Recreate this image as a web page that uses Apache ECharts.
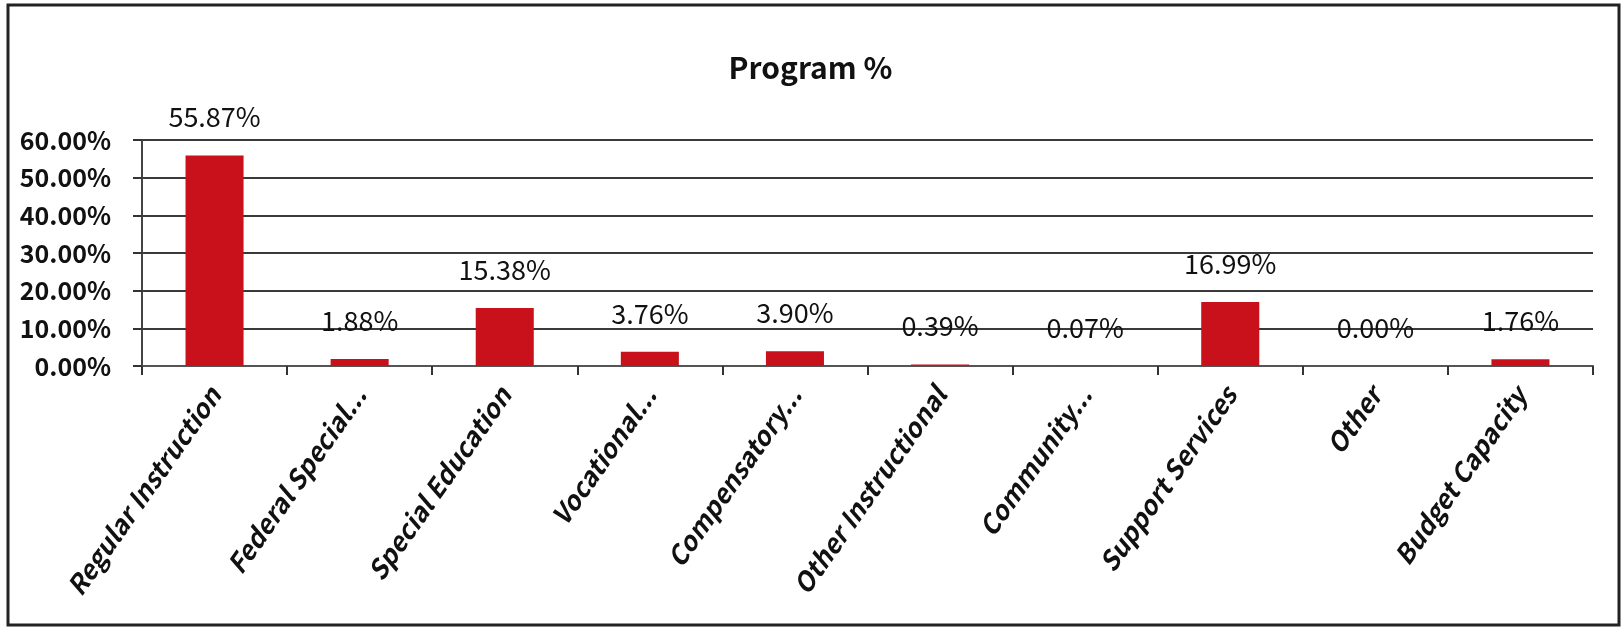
<!DOCTYPE html>
<html>
<head>
<meta charset="utf-8">
<script src="https://cdn.jsdelivr.net/npm/echarts@6/dist/echarts.min.js"></script>
<style>
html,body{margin:0;padding:0;background:#fff;}
#chart{width:1621px;height:629px;}
</style>
</head>
<body>
<div id="chart"></div>
<script>
const categories = ["Regular Instruction","Federal Special...","Special Education","Vocational...","Compensatory...","Other Instructional","Community...","Support Services","Other","Budget Capacity"];
const values = [55.87, 1.88, 15.38, 3.76, 3.90, 0.39, 0.07, 16.99, 0.00, 1.76];
const titleText = "Program %";

const FONT = "'Noto Sans CJK SC', 'DejaVu Sans Condensed', sans-serif";
const chart = echarts.init(document.getElementById('chart'), null, {renderer:'canvas'});
chart.setOption({
  animation:false,
  backgroundColor:'#fff',
  title:{
    text:titleText, left:'center', top:48,
    textStyle:{fontFamily:FONT, fontSize:30, fontWeight:'bold', color:'#111'}
  },
  graphic:[{
    type:'rect', shape:{x:8, y:5, width:1611, height:620},
    style:{fill:'none', stroke:'#222', lineWidth:3}, silent:true
  }],
  grid:{left:142, right:28, top:140, bottom:263},
  xAxis:{
    type:'category', data:categories,
    axisLine:{lineStyle:{color:'#555', width:2}},
    axisTick:{show:true, length:9, lineStyle:{color:'#333', width:2}},
    axisLabel:{
      rotate:55, margin:24, interval:0,
      fontFamily:FONT, fontSize:26, fontWeight:'bold', fontStyle:'italic', color:'#111'
    }
  },
  yAxis:{
    type:'value', min:0, max:60, interval:10,
    axisLine:{show:true, lineStyle:{color:'#444', width:2}},
    axisTick:{show:true, length:9, lineStyle:{color:'#333', width:2}},
    splitLine:{lineStyle:{color:'#3a3a3a', width:2}},
    axisLabel:{
      formatter:v=>v.toFixed(2)+'%', margin:31,
      fontFamily:FONT, fontSize:25, fontWeight:'bold', color:'#111'
    }
  },
  series:[{
    type:'bar', data:values, barWidth:'40%',
    itemStyle:{color:'#c8111b'},
    label:{
      show:true, position:'top', distance:25,
      formatter:p=>p.value.toFixed(2)+'%',
      fontFamily:FONT, fontSize:27, color:'#111'
    }
  }]
});
</script>
</body>
</html>
